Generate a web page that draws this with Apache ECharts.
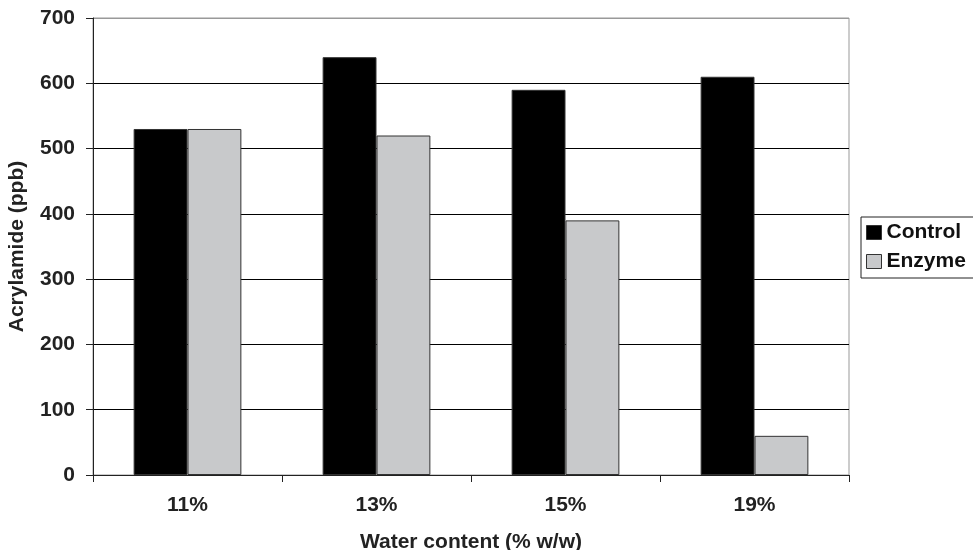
<!DOCTYPE html>
<html>
<head>
<meta charset="utf-8">
<script src="https://cdn.jsdelivr.net/npm/echarts@6/dist/echarts.min.js"></script>
<style>
  html, body { margin: 0; padding: 0; background: #fff; }
  #chart { width: 973px; height: 550px; }
</style>
</head>
<body>
<div id="chart"></div>
<script>
// Acrylamide level by water content, control vs enzyme-treated
const categories = ['11%', '13%', '15%', '19%'];
const controlValues = [530, 640, 590, 610];
const enzymeValues = [530, 520, 390, 60];
const yTicks = [0, 100, 200, 300, 400, 500, 600, 700];

const chart = echarts.init(document.getElementById('chart'));
const font = 'Liberation Sans, Arial, sans-serif';

chart.setOption({
  animation: false,
  backgroundColor: '#fff',
  grid: {
    left: 93, right: 124, top: 18, bottom: 75,
    outerBoundsMode: 'none',
    containLabel: false,
    show: true, borderColor: '#999', borderWidth: 1
  },
  legend: {
    left: 861, top: 217,
    orient: 'vertical',
    itemWidth: 15, itemHeight: 14, itemGap: 8,
    itemTextGap: 5,
    padding: [5, 20, 6, 5],
    borderColor: '#222', borderWidth: 1,
    textStyle: { fontFamily: font, fontWeight: 'bold', fontSize: 21, color: '#111' },
    data: [
      { name: 'Control', icon: 'rect', itemStyle: { borderColor: '#333', borderWidth: 1 } },
      { name: 'Enzyme', icon: 'rect', itemStyle: { borderColor: '#333', borderWidth: 1 } }
    ]
  },
  xAxis: {
    type: 'category',
    data: categories,
    name: 'Water content (% w/w)',
    nameLocation: 'middle',
    nameGap: 57,
    nameTextStyle: { fontFamily: font, fontWeight: 'bold', fontSize: 21, color: '#222' },
    axisLine: { lineStyle: { color: '#222', width: 1 } },
    axisTick: { show: true, length: 7, lineStyle: { color: '#222' } },
    axisLabel: { margin: 20, fontFamily: font, fontWeight: 'bold', fontSize: 21, color: '#222' }
  },
  yAxis: {
    type: 'value',
    min: yTicks[0], max: yTicks[yTicks.length - 1], interval: 100,
    name: 'Acrylamide (ppb)',
    nameLocation: 'middle',
    nameGap: 65,
    nameTextStyle: { fontFamily: font, fontWeight: 'bold', fontSize: 21, color: '#222' },
    axisLine: { show: true, lineStyle: { color: '#222', width: 1 } },
    axisTick: { show: true, length: 7, lineStyle: { color: '#222' } },
    axisLabel: { margin: 18, fontFamily: font, fontWeight: 'bold', fontSize: 21, color: '#222' },
    splitLine: {
      show: true,
      lineStyle: { color: ['#000', '#000', '#000', '#000', '#000', '#000', '#000', '#999'], width: 1 }
    }
  },
  series: [
    {
      name: 'Control', type: 'bar', data: controlValues,
      barGap: '0%', barCategoryGap: '43%',
      itemStyle: { color: '#000', borderColor: '#333', borderWidth: 1 }
    },
    {
      name: 'Enzyme', type: 'bar', data: enzymeValues,
      barGap: '0%', barCategoryGap: '43%',
      itemStyle: { color: '#c8c9cb', borderColor: '#333', borderWidth: 1 }
    }
  ]
});
</script>
</body>
</html>
